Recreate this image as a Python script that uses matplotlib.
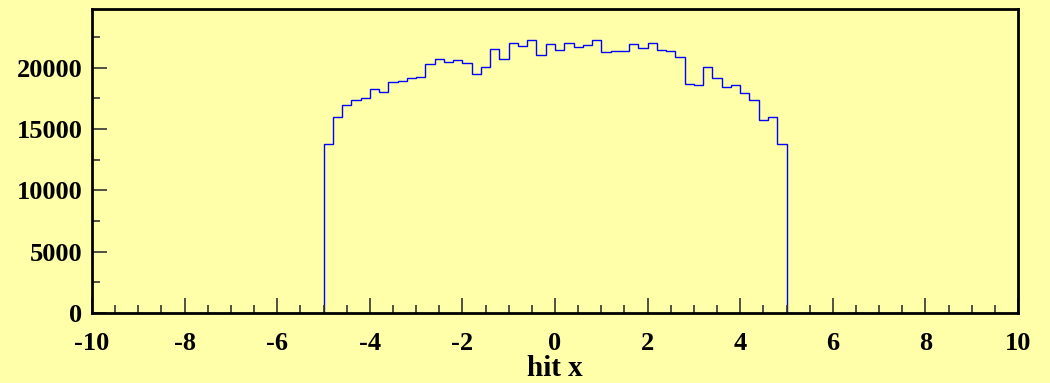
import numpy as np
import matplotlib.pyplot as plt
from matplotlib.ticker import MultipleLocator

# hit x distribution, 100 bins over [-10, 10]; only |x| < 5 is populated
x_lo, x_hi, n_bins = -10, 10, 100
filled = [13770, 16000, 16980, 17390, 17550, 18290, 18020, 18810, 18910, 19160,
          19210, 20330, 20730, 20490, 20650, 20380, 19510, 20030, 21500, 20730,
          22020, 21800, 22260, 21040, 21960, 21470, 22040, 21720, 21850, 22290,
          21280, 21390, 21340, 21960, 21580, 22040, 21420, 21340, 20900, 18690,
          18590, 20030, 19180, 18420, 18610, 17910, 17340, 15730, 15950, 13770]
empty = [0] * 25
counts = empty + filled + empty
x_ticks = [-10, -8, -6, -4, -2, 0, 2, 4, 6, 8, 10]
y_ticks = [0, 5000, 10000, 15000, 20000]

bg = '#ffffaa'
plt.rcParams['font.family'] = 'Liberation Serif'
plt.rcParams['font.weight'] = 'bold'
plt.rcParams['axes.unicode_minus'] = False

fig = plt.figure(figsize=(10.5, 3.83), dpi=100, facecolor=bg)
ax = fig.add_axes([92 / 1050, 1 - 313 / 383, 926 / 1050, 304 / 383])
ax.set_facecolor(bg)

edges = np.linspace(x_lo, x_hi, n_bins + 1)
ax.stairs(counts, edges, color='#0000ff', lw=1.0)

ax.set_xlim(x_lo, x_hi)
ax.set_ylim(0, 24790)
ax.set_xticks(x_ticks)
ax.set_yticks(y_ticks)
ax.xaxis.set_minor_locator(MultipleLocator(0.5))
ax.yaxis.set_minor_locator(MultipleLocator(2500))
ax.tick_params(which='both', direction='in', width=1.2, color='#333333')
ax.tick_params(which='major', length=11, labelsize=19)
ax.tick_params(which='minor', length=6)
ax.tick_params(axis='x', which='major', pad=14)
ax.tick_params(axis='y', which='major', pad=7)
ax.tick_params(top=False, right=False)
for s in ax.spines.values():
    s.set_linewidth(2.0)
    s.set_color('black')

fig.text(555 / 1050, 1 - 369 / 383, 'hit x', ha='center', va='center',
         fontsize=21, fontweight='bold')

fig.savefig('out.png', dpi=100, facecolor=bg)
